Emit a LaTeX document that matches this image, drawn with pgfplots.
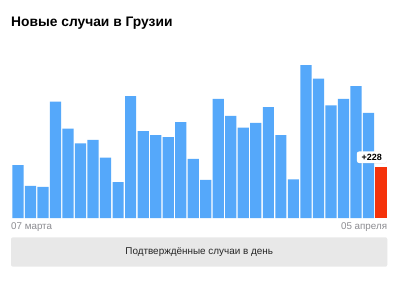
\documentclass[border=0pt]{standalone}
\usepackage{pgfplots}
\pgfplotsset{compat=1.18}
\usepackage{fontspec}
\setmainfont{Liberation Sans}
\usetikzlibrary{shadows}
\definecolor{barblue}{RGB}{85,168,250}
\definecolor{barred}{RGB}{245,50,10}
\definecolor{boxgray}{RGB}{232,232,232}
\definecolor{labgray}{RGB}{140,140,145}
\begin{document}
\begin{tikzpicture}[x=1pt,y=1pt]
\path[fill=white] (0,0) rectangle (400,-281);
\node[anchor=west,font=\bfseries\fontsize{13.8}{15}\selectfont,inner sep=0] at (11,-23) {Новые случаи в Грузии};
\begin{axis}[
  at={(11.7pt,-218pt)}, anchor=south west,
  scale only axis, width=375.6pt, height=156.6pt,
  xmin=-0.5, xmax=29.5, ymin=0, ymax=700,
  axis lines=none, ticks=none,
  ybar, bar width=11.2pt, bar shift=0pt,
  clip=false,
]
\addplot[fill=barblue, draw=none] coordinates {
(0,236) (1,144) (2,139) (3,520) (4,399) (5,334) (6,349) (7,270) (8,160) (9,545)
(10,388) (11,371) (12,362) (13,429) (14,264) (15,170) (16,533) (17,456) (18,404) (19,425)
(20,496) (21,370) (22,173) (23,683) (24,623) (25,504) (26,533) (27,590) (28,470)
};
\addplot[fill=barred, draw=none] coordinates {(29,228)};
\node[anchor=south, fill=white, rounded corners=2.5pt, drop shadow={opacity=0.15,shadow xshift=0pt,shadow yshift=-0.5pt},
  font=\bfseries\fontsize{9}{10}\selectfont, inner xsep=3pt, inner ysep=2pt, minimum width=30pt, minimum height=11.7pt]
  at (axis cs:28.26,228) [yshift=3.7pt] {+228};
\end{axis}
\node[anchor=west,text=labgray,font=\fontsize{9.8}{10}\selectfont,inner sep=0] at (11,-227) {07 марта};
\node[anchor=east,text=labgray,font=\fontsize{9.8}{10}\selectfont,inner sep=0] at (387.3,-227) {05 апреля};
\fill[boxgray, rounded corners=2pt] (11,-237.3) rectangle (387.3,-266.7);
\node[text=black!85,font=\fontsize{9.9}{11}\selectfont] at (199.2,-252) {Подтверждённые случаи в день};
\end{tikzpicture}
\end{document}
